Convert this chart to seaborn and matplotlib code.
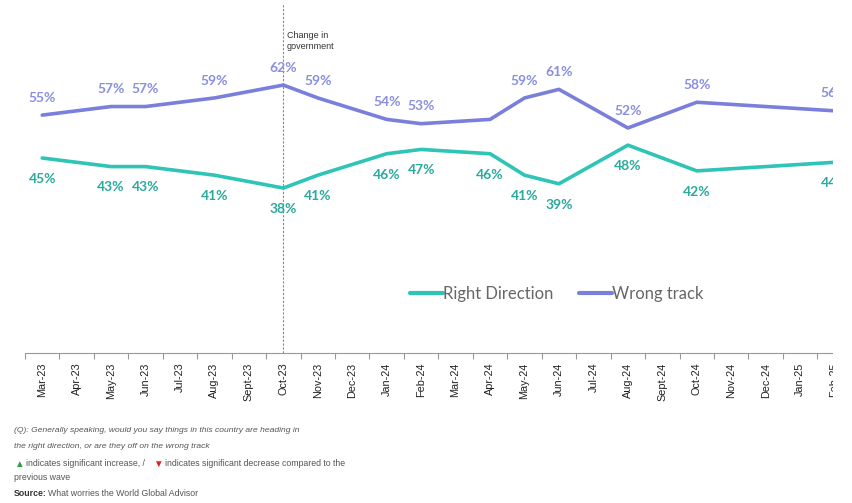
import numpy as np
import pandas as pd
import matplotlib.pyplot as plt
import seaborn as sns
from matplotlib.patches import Rectangle

# months on the x axis (one band per month)
months = ['Mar-23', 'Apr-23', 'May-23', 'Jun-23', 'Jul-23', 'Aug-23', 'Sept-23', 'Oct-23',
          'Nov-23', 'Dec-23', 'Jan-24', 'Feb-24', 'Mar-24', 'Apr-24', 'May-24', 'Jun-24',
          'Jul-24', 'Aug-24', 'Sept-24', 'Oct-24', 'Nov-24', 'Dec-24', 'Jan-25', 'Feb-25']

# survey waves (NaN = no wave that month)
right_direction = [45, np.nan, 43, 43, np.nan, 41, np.nan, 38, 41, np.nan, 46, 47,
                   np.nan, 46, 41, 39, np.nan, 48, np.nan, 42, np.nan, np.nan, np.nan, 44]
wrong_track = [55, np.nan, 57, 57, np.nan, 59, np.nan, 62, 59, np.nan, 54, 53,
               np.nan, 54, 59, 61, np.nan, 52, np.nan, 58, np.nan, np.nan, np.nan, 56]
# which points get a value label
show_wrong = [1, 0, 1, 1, 0, 1, 0, 1, 1, 0, 1, 1, 0, 0, 1, 1, 0, 1, 0, 1, 0, 0, 0, 1]
show_right = [1, 0, 1, 1, 0, 1, 0, 1, 1, 0, 1, 1, 0, 1, 1, 1, 0, 1, 0, 1, 0, 0, 0, 1]

c_right = '#2ec4b6'
c_wrong = '#7b7fdc'
c_right_lbl = '#2aa99d'
c_wrong_lbl = '#8a8fe0'

df = pd.DataFrame({'idx': range(len(months)), 'month': months,
                   'Right Direction': right_direction, 'Wrong track': wrong_track})
long = df.melt(id_vars=['idx', 'month'], var_name='series', value_name='pct').dropna()

sns.set_style('white')
plt.rcParams['font.family'] = ['Liberation Sans', 'DejaVu Sans']

fig = plt.figure(figsize=(8.53, 5.03), dpi=100)
ax = fig.add_axes([25 / 853, 1 - 353 / 503, 826.8 / 853, 349 / 503])

sns.lineplot(data=long, x='idx', y='pct', hue='series',
             palette={'Right Direction': c_right, 'Wrong track': c_wrong},
             linewidth=2.6, ax=ax)

ax.set_xlim(-0.5, len(months) - 0.5)
ax.set_ylim(-0.45, 80.9)

# value labels
for i in range(len(months)):
    if show_wrong[i] and not np.isnan(wrong_track[i]):
        ax.annotate(f'{int(wrong_track[i])}%', (i, wrong_track[i]), xytext=(0, 12.5),
                    textcoords='offset points', ha='center', va='center',
                    fontsize=10, fontweight='bold', color=c_wrong_lbl, family='Lato')
    if show_right[i] and not np.isnan(right_direction[i]):
        ax.annotate(f'{int(right_direction[i])}%', (i, right_direction[i]), xytext=(0, -15),
                    textcoords='offset points', ha='center', va='center',
                    fontsize=10, fontweight='bold', color=c_right_lbl, family='Lato')

# change in government marker
ax.axvline(7, color='#888888', linestyle=(0, (2, 1.5)), linewidth=0.8, zorder=0)
ax.text(7.1, 74.7, 'Change in\ngovernment', fontsize=6.5, color='#333333',
        va='top', ha='left', linespacing=1.3)

# axes styling
sns.despine(ax=ax, left=True)
ax.spines['bottom'].set_color('#999999')
ax.set_yticks([])
ax.set_xticks(range(len(months)))
ax.set_xticklabels(months, rotation=90, fontsize=7.8, color='#222222')
ax.tick_params(axis='x', which='major', length=0, pad=7)
ax.set_xticks(np.arange(-0.5, len(months), 1), minor=True)
ax.tick_params(axis='x', which='minor', bottom=True, length=4, width=0.8,
               color='#999999', direction='out')
ax.set_xlabel('')
ax.set_ylabel('')

leg = ax.legend(loc='center', bbox_to_anchor=(0.643, 0.17), ncol=2, frameon=False,
                handlelength=2.0, handletextpad=0.0, columnspacing=1.5,
                prop={'family': 'Lato', 'size': 12})
for t in leg.get_texts():
    t.set_color('#666666')
for h in leg.get_lines():
    h.set_linewidth(3)

# footnotes
fs = 6.3
fig.text(14 / 853, 1 - 430 / 503, '(Q): Generally speaking, would you say things in this country are heading in',
         fontsize=6.1, style='italic', color='#555555', va='center')
fig.text(14 / 853, 1 - 447 / 503, 'the right direction, or are they off on the wrong track',
         fontsize=6.1, style='italic', color='#555555', va='center')
fig.text(14 / 853, 1 - 464 / 503, '\u25b2', fontsize=7, color='#2e9e4a', va='center')
fig.text(26 / 853, 1 - 464 / 503, 'indicates significant increase, /', fontsize=fs,
         color='#555555', va='center')
fig.text(153 / 853, 1 - 464 / 503, '\u25bc', fontsize=7, color='#e02020', va='center')
fig.text(165 / 853, 1 - 464 / 503, 'indicates significant decrease compared to the',
         fontsize=fs, color='#555555', va='center')
fig.text(14 / 853, 1 - 477 / 503, 'previous wave', fontsize=fs, color='#555555', va='center')
fig.text(14 / 853, 1 - 493 / 503, 'Source:', fontsize=fs, fontweight='bold', color='#333333',
         va='center')
fig.text(48 / 853, 1 - 493 / 503, 'What worries the World Global Advisor', fontsize=fs,
         color='#555555', va='center')

# the source image is cropped at the right edge
fig.patches.append(Rectangle((833 / 853, 0), 1, 1, transform=fig.transFigure,
                             facecolor='white', edgecolor='none', zorder=10))

fig.savefig('out.png', dpi=100)
